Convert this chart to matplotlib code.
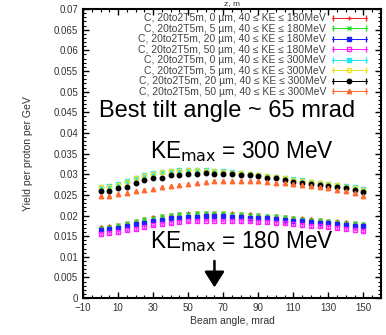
import numpy as np
import matplotlib
matplotlib.use("Agg")
import matplotlib.pyplot as plt
from matplotlib.ticker import MultipleLocator
from matplotlib.container import ErrorbarContainer
from matplotlib.legend_handler import HandlerErrorbar

plt.rcParams['font.family'] = ['Liberation Sans', 'DejaVu Sans']

# beam angle, mrad
angle = np.arange(0, 151, 5)

# yield per proton per GeV, 40 <= KE <= 180 MeV
y180_0 = [0.0172, 0.0174, 0.0177, 0.0181, 0.0187, 0.0192, 0.0196, 0.0199, 0.0202, 0.0204, 0.0205,
          0.0206, 0.0206, 0.0206, 0.0205, 0.0205, 0.0204, 0.0203, 0.0202, 0.0200, 0.0199, 0.0197,
          0.0195, 0.0193, 0.0191, 0.0189, 0.0187, 0.0186, 0.0184, 0.0182, 0.0180]
y180_5 = [0.0171, 0.0173, 0.0176, 0.0181, 0.0186, 0.0191, 0.0195, 0.0198, 0.0201, 0.0203, 0.0204,
          0.0205, 0.0206, 0.0205, 0.0205, 0.0204, 0.0203, 0.0202, 0.0201, 0.0200, 0.0198, 0.0196,
          0.0194, 0.0192, 0.0190, 0.0189, 0.0187, 0.0185, 0.0183, 0.0181, 0.0179]
y180_20 = [0.0165, 0.0167, 0.0170, 0.0174, 0.0179, 0.0183, 0.0187, 0.0190, 0.0193, 0.0195, 0.0196,
           0.0197, 0.0198, 0.0198, 0.0198, 0.0197, 0.0196, 0.0195, 0.0194, 0.0193, 0.0191, 0.0190,
           0.0188, 0.0186, 0.0184, 0.0182, 0.0181, 0.0179, 0.0177, 0.0175, 0.0174]
y180_50 = [0.0155, 0.0157, 0.0160, 0.0164, 0.0168, 0.0172, 0.0176, 0.0179, 0.0182, 0.0184, 0.0186,
           0.0187, 0.0188, 0.0188, 0.0188, 0.0187, 0.0187, 0.0186, 0.0185, 0.0184, 0.0182, 0.0181,
           0.0179, 0.0177, 0.0175, 0.0174, 0.0172, 0.0170, 0.0168, 0.0166, 0.0163]

# yield per proton per GeV, 40 <= KE <= 300 MeV
y300_0 = [0.0270, 0.0272, 0.0276, 0.0284, 0.0291, 0.0297, 0.0302, 0.0306, 0.0308, 0.0310, 0.0311,
          0.0310, 0.0310, 0.0309, 0.0307, 0.0305, 0.0303, 0.0300, 0.0299, 0.0296, 0.0294, 0.0292,
          0.0288, 0.0285, 0.0282, 0.0280, 0.0277, 0.0275, 0.0271, 0.0268, 0.0264]
y300_5 = [0.0268, 0.0270, 0.0275, 0.0282, 0.0290, 0.0296, 0.0301, 0.0305, 0.0307, 0.0309, 0.0310,
          0.0310, 0.0309, 0.0308, 0.0306, 0.0304, 0.0302, 0.0300, 0.0298, 0.0295, 0.0293, 0.0291,
          0.0287, 0.0284, 0.0281, 0.0279, 0.0276, 0.0274, 0.0270, 0.0267, 0.0263]
y300_20 = [0.0260, 0.0260, 0.0267, 0.0270, 0.0279, 0.0285, 0.0291, 0.0292, 0.0298, 0.0298, 0.0301,
           0.0301, 0.0302, 0.0301, 0.0300, 0.0300, 0.0298, 0.0297, 0.0295, 0.0291, 0.0290, 0.0287,
           0.0281, 0.0280, 0.0277, 0.0274, 0.0271, 0.0270, 0.0266, 0.0262, 0.0256]
y300_50 = [0.0248, 0.0248, 0.0252, 0.0255, 0.0259, 0.0262, 0.0264, 0.0269, 0.0272, 0.0275, 0.0277,
           0.0280, 0.0281, 0.0283, 0.0284, 0.0284, 0.0284, 0.0283, 0.0283, 0.0281, 0.0280, 0.0278,
           0.0276, 0.0274, 0.0271, 0.0268, 0.0266, 0.0263, 0.0259, 0.0255, 0.0248]

series = [
    (y180_0, "C, 20to2T5m, 0 \u00b5m, 40 \u2264 KE \u2264 180MeV", "#ff2020", "+", True),
    (y180_5, "C, 20to2T5m, 5 \u00b5m, 40 \u2264 KE \u2264 180MeV", "#20e020", "x", True),
    (y180_20, "C, 20to2T5m, 20 \u00b5m, 40 \u2264 KE \u2264 180MeV", "#2020ff", "s", True),
    (y180_50, "C, 20to2T5m, 50 \u00b5m, 40 \u2264 KE \u2264 180MeV", "#ff20ff", "s", False),
    (y300_0, "C, 20to2T5m, 0 \u00b5m, 40 \u2264 KE \u2264 300MeV", "#20e8f0", "s", True),
    (y300_5, "C, 20to2T5m, 5 \u00b5m, 40 \u2264 KE \u2264 300MeV", "#f0e020", "o", False),
    (y300_20, "C, 20to2T5m, 20 \u00b5m, 40 \u2264 KE \u2264 300MeV", "#000000", "o", True),
    (y300_50, "C, 20to2T5m, 50 \u00b5m, 40 \u2264 KE \u2264 300MeV", "#ff6a30", "^", True),
]

fig = plt.figure(figsize=(3.86, 3.35), dpi=100)
ax = fig.add_axes([0.215, 0.110, 0.772, 0.863])

for vals, lab, col, mk, filled in series:
    ax.errorbar(angle, vals, yerr=0.0002, fmt=mk, color=col, ms=3.2, mew=1.0,
                mfc=col if filled else "none", elinewidth=0.6, capsize=1.0)
    # legend entry: horizontal bar with caps, drawn outside the visible range
    ax.errorbar([-100], [0.05], xerr=1, fmt=mk + "-", color=col, ms=3.2, mew=1.0,
                mfc=col if filled else "none", elinewidth=0.7, lw=0.7, capsize=2.0,
                label=lab)

ax.set_xlim(-10, 160)
ax.set_ylim(0, 0.07)
ax.set_xticks(np.arange(-10, 151, 20))
ax.xaxis.set_minor_locator(MultipleLocator(5))
ax.yaxis.set_major_locator(MultipleLocator(0.005))
ax.yaxis.set_minor_locator(MultipleLocator(0.001))
ax.set_yticklabels([("%g" % v) for v in ax.get_yticks()])
ax.tick_params(which="both", direction="in", top=True, right=True, labelsize=7,
               labelcolor="#333333")
ax.tick_params(which="major", length=4, width=1.0)
ax.tick_params(which="minor", length=2, width=0.8)
for s in ax.spines.values():
    s.set_linewidth(1.5)

ax.set_xlabel("Beam angle, mrad", fontsize=7.5, color="#333333", labelpad=2)
ax.set_ylabel("Yield per proton per GeV", fontsize=7.5, color="#333333", labelpad=15)

leg = ax.legend(loc="upper right", frameon=False, markerfirst=False, fontsize=7.5,
                handlelength=3.3, labelspacing=0.05, borderaxespad=0, numpoints=1,
                handletextpad=0.6, bbox_to_anchor=(0.966, 1.0),
                handler_map={ErrorbarContainer: HandlerErrorbar(xerr_size=1.6, numpoints=1)})
for t in leg.get_texts():
    t.set_color("#444444")

ax.text(72, 0.0452, "Best tilt angle ~ 65 mrad", fontsize=17, ha="center", va="center")
ax.text(80.5, 0.0355, "KE$_{\\mathrm{max}}$ = 300 MeV", fontsize=16.3, ha="center", va="center")
ax.text(80.5, 0.0138, "KE$_{\\mathrm{max}}$ = 180 MeV", fontsize=16.3, ha="center", va="center")
ax.annotate("", xy=(65, 0.0026), xytext=(65, 0.0090),
            arrowprops=dict(arrowstyle="-|>,head_length=0.6,head_width=0.38",
                            color="black", lw=1.8, mutation_scale=16, shrinkA=0, shrinkB=0))

fig.text(0.60, 1.0, "z, m", fontsize=6, ha="center", va="top", color="#333333")

fig.savefig("out.png", dpi=100)
